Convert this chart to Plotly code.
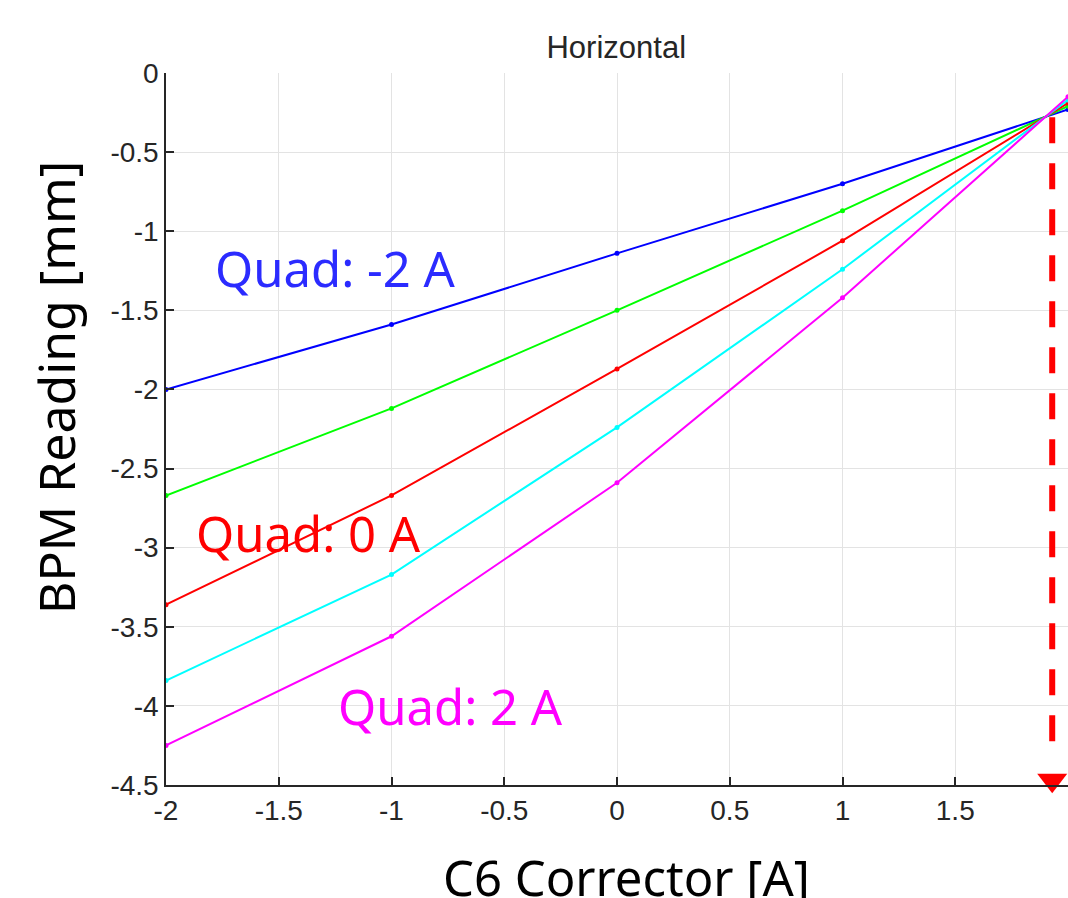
import plotly.graph_objects as go

corrector = [-2, -1, 0, 1, 2]
quad_m2 = [-2.00, -1.59, -1.14, -0.70, -0.23]
quad_m1 = [-2.67, -2.12, -1.50, -0.87, -0.21]
quad_0 = [-3.36, -2.67, -1.87, -1.06, -0.19]
quad_p1 = [-3.84, -3.17, -2.24, -1.24, -0.17]
quad_p2 = [-4.25, -3.56, -2.59, -1.42, -0.15]

series = [
    ("Quad: -2 A", quad_m2, "#0000ff"),
    ("Quad: -1 A", quad_m1, "#00ff00"),
    ("Quad: 0 A", quad_0, "#ff0000"),
    ("Quad: 1 A", quad_p1, "#00ffff"),
    ("Quad: 2 A", quad_p2, "#ff00ff"),
]

x_ticks = [-2, -1.5, -1, -0.5, 0, 0.5, 1, 1.5, 2]
x_tick_text = ["-2", "-1.5", "-1", "-0.5", "0", "0.5", "1", "1.5", "2"]
y_ticks = [0, -0.5, -1, -1.5, -2, -2.5, -3, -3.5, -4, -4.5]
y_tick_text = ["0", "-0.5", "-1", "-1.5", "-2", "-2.5", "-3", "-3.5", "-4", "-4.5"]

# dashed arrow marking the crossing point
arrow_x = 1.93
arrow_top = -0.28
arrow_dash_end = -4.30
arrow_head_y = -4.47

labels = [
    ("Quad: -2 A", -1.25, -1.23, "#2b2bff"),
    ("Quad: 0 A", -1.37, -2.91, "#ff0000"),
    ("Quad: 2 A", -0.74, -4.00, "#ff00ff"),
]

fig = go.Figure()
for name, ys, col in series:
    fig.add_trace(go.Scatter(
        x=corrector, y=ys, mode="lines+markers", name=name,
        line=dict(color=col, width=2),
        marker=dict(color=col, size=5),
    ))

fig.add_shape(type="line", x0=arrow_x, x1=arrow_x, y0=arrow_top, y1=arrow_dash_end,
              xref="x", yref="y",
              line=dict(color="#ff0000", width=6, dash="26px,20px"))
fig.add_trace(go.Scatter(
    x=[arrow_x], y=[arrow_head_y], mode="markers",
    marker=dict(symbol="triangle-down", size=26, color="#ff0000", line=dict(width=0)),
    cliponaxis=False, showlegend=False,
))

for text, lx, ly, col in labels:
    fig.add_annotation(x=lx, y=ly, xref="x", yref="y", text=text, showarrow=False,
                       font=dict(family="Noto Sans", size=49, color=col))

fig.add_annotation(x=-0.122, y=0.559, xref="paper", yref="paper", text="BPM Reading [mm]",
                   textangle=-90, showarrow=False, xanchor="center", yanchor="middle",
                   font=dict(family="Noto Sans", size=50, color="#000000"))
fig.add_annotation(x=0.511, y=-0.08, xref="paper", yref="paper", text="C6 Corrector [A]",
                   showarrow=False, xanchor="center", yanchor="top",
                   font=dict(family="Noto Sans", size=49, color="#000000"))

axis_common = dict(
    showgrid=True, gridcolor="#e3e3e3", gridwidth=1,
    showline=True, linecolor="#262626", linewidth=1.5,
    ticks="inside", ticklen=8, tickwidth=1.5, tickcolor="#262626",
    tickfont=dict(family="Liberation Sans, Arial", size=28, color="#262626"),
    zeroline=False, mirror=False,
)

fig.update_layout(
    width=1068, height=898,
    margin=dict(l=166, r=0, t=73, b=113),
    paper_bgcolor="white", plot_bgcolor="white",
    showlegend=False,
    title=dict(text="Horizontal", x=0.577, xanchor="center", y=0.948, yanchor="middle",
               font=dict(family="Liberation Sans, Arial", size=31, color="#262626")),
    xaxis=dict(range=[-2, 2], tickvals=x_ticks, ticktext=x_tick_text, **axis_common),
    yaxis=dict(range=[-4.5, 0], tickvals=y_ticks, ticktext=y_tick_text, **axis_common),
)

fig.write_html("out.html")
